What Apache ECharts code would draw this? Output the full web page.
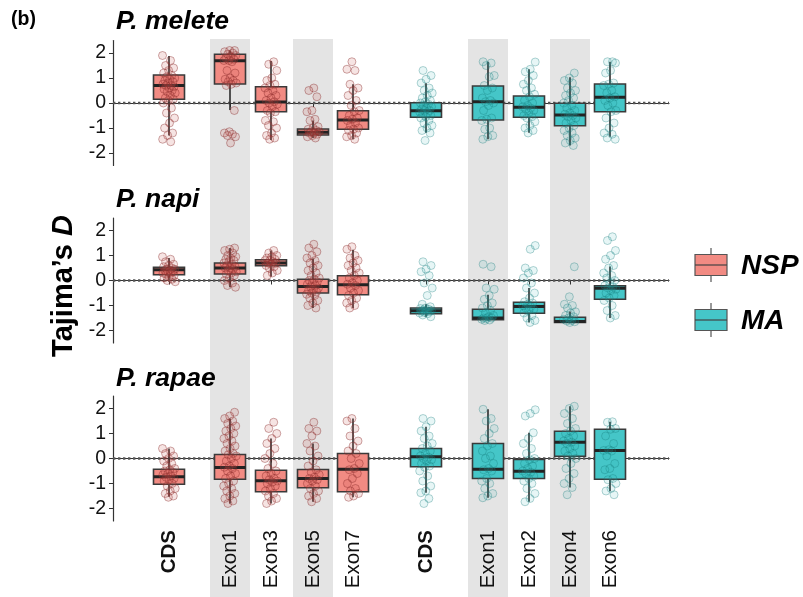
<!DOCTYPE html>
<html>
<head>
<meta charset="utf-8">
<script src="https://cdn.jsdelivr.net/npm/echarts@6/dist/echarts.min.js"></script>
<style>
  html, body { margin: 0; padding: 0; background: #fff; }
  #chart { width: 803px; height: 597px; }
</style>
</head>
<body>
<div id="chart"></div>
<script>
// categories along x (NSP group first, then MA group)
const categories = ['CDS', 'Exon1', 'Exon3', 'Exon5', 'Exon7', 'CDS', 'Exon1', 'Exon2', 'Exon4', 'Exon6']
const groupNames = ['NSP', 'MA']
const species = ['P. melete', 'P. napi', 'P. rapae']
const yTicks = [-2, -1, 0, 1, 2]

// box stats per category: [lower whisker, Q1, median, Q3, upper whisker]
const meleteBoxes = [
  [-1.3, 0.15, 0.7, 1.12, 1.88], [-0.28, 0.76, 1.69, 1.95, 2.1], [-1.48, -0.35, 0.04, 0.65, 1.68],
  [-1.4, -1.28, -1.17, -1.04, -0.7], [-1.45, -1.05, -0.68, -0.31, 0.75],
  [-1.19, -0.57, -0.31, 0.01, 0.79], [-1.45, -0.68, 0.05, 0.68, 1.65], [-1.19, -0.57, -0.17, 0.28, 1.35],
  [-1.7, -0.91, -0.48, -0.01, 1.03], [-1.35, -0.35, 0.23, 0.76, 1.65]
]
const napiBoxes = [
  [0.03, 0.23, 0.43, 0.53, 0.9], [-0.27, 0.26, 0.5, 0.7, 1.3], [0.16, 0.59, 0.7, 0.83, 1.2],
  [-1.1, -0.5, -0.24, 0.05, 0.88], [-1.1, -0.57, -0.17, 0.19, 1.23],
  [-1.45, -1.33, -1.21, -1.1, -0.95], [-1.6, -1.57, -1.5, -1.15, -0.57], [-1.68, -1.31, -1.04, -0.87, -0.3],
  [-1.68, -1.68, -1.64, -1.47, -1.24], [-1.5, -0.75, -0.31, -0.21, 0.56]
]
const rapaeBoxes = [
  [-1.53, -1.03, -0.73, -0.43, 0.4], [-1.8, -0.83, -0.36, 0.16, 1.6], [-1.8, -1.33, -0.89, -0.47, 0.8],
  [-1.73, -1.17, -0.8, -0.44, 0.6], [-1.55, -1.33, -0.43, 0.2, 1.6],
  [-1.37, -0.33, 0.07, 0.4, 1.27], [-1.57, -0.8, -0.43, 0.6, 1.97], [-1.73, -0.8, -0.51, -0.04, 1.03],
  [-1.16, 0.09, 0.65, 1.09, 2.09], [-1.31, -0.83, 0.32, 1.17, 1.47]
]

// individual Tajima's D values per category
const meletePoints = [
  [1.9, 1.7, 1.5, 1.4, 1.3, 1.2, 1.1, 1.05, 1.0, 0.95, 0.9, 0.85, 0.8, 0.75, 0.7, 0.7, 0.65, 0.6, 0.55, 0.5, 0.45, 0.4, 0.3, 0.2, 0.15, 0.1, 0, -0.2, -0.4, -0.6, -0.8, -1.0, -1.2, -1.3, -1.45, -1.55],
  [2.1, 2.1, 2.05, 2.0, 1.95, 1.9, 1.85, 1.8, 1.75, 1.7, 1.7, 1.65, 1.3, 1.2, 1.0, 0.95, 0.9, 0.85, 0.8, 0.75, 0.7, -0.3, -1.15, -1.2, -1.25, -1.3, -1.35, -1.6],
  [1.65, 1.55, 1.3, 1.0, 0.9, 0.75, 0.7, 0.6, 0.5, 0.4, 0.3, 0.2, 0.1, 0.05, 0, -0.05, -0.15, -0.3, -0.35, -0.4, -0.7, -0.75, -0.9, -1.0, -1.2, -1.3, -1.4, -1.45],
  [0.6, 0.5, 0.25, -0.3, -0.35, -0.65, -0.7, -0.95, -1.0, -1.05, -1.1, -1.15, -1.15, -1.2, -1.2, -1.25, -1.3, -1.35, -1.4],
  [1.65, 1.35, 1.3, 0.75, 0.6, 0.5, 0.3, 0.1, -0.1, -0.3, -0.35, -0.5, -0.6, -0.65, -0.7, -0.8, -0.9, -1.0, -1.05, -1.1, -1.2, -1.3, -1.35, -1.45],
  [1.3, 1.1, 0.95, 0.8, 0.6, 0.5, 0.4, 0.3, 0.2, 0.1, 0.05, 0, -0.05, -0.1, -0.15, -0.2, -0.25, -0.3, -0.3, -0.35, -0.4, -0.45, -0.5, -0.55, -0.6, -0.7, -0.8, -0.9, -1.0, -1.1, -1.2, -1.5],
  [1.65, 1.6, 1.5, 1.1, 1.05, 0.7, 0.6, 0.5, 0.2, 0.1, 0.05, 0, -0.1, -0.3, -0.6, -0.65, -0.7, -1.0, -1.05, -1.3, -1.35, -1.45],
  [1.64, 1.35, 1.25, 1.1, 0.9, 0.75, 0.6, 0.5, 0.35, 0.25, 0.1, 0, -0.1, -0.15, -0.2, -0.25, -0.3, -0.4, -0.5, -0.55, -0.6, -0.75, -0.9, -1.0, -1.1, -1.2],
  [1.2, 1.0, 0.9, 0.8, 0.6, 0.5, 0.4, 0.3, 0.2, 0.1, 0, -0.1, -0.2, -0.3, -0.4, -0.45, -0.5, -0.55, -0.6, -0.7, -0.8, -0.9, -1.0, -1.1, -1.2, -1.3, -1.4, -1.5, -1.6, -1.7],
  [1.65, 1.65, 1.6, 1.3, 1.2, 0.8, 0.75, 0.7, 0.5, 0.4, 0.25, 0.2, 0.1, 0, -0.1, -0.3, -0.35, -0.6, -0.8, -1.0, -1.2, -1.25, -1.4, -1.45]
]
const napiPoints = [
  [0.95, 0.85, 0.75, 0.65, 0.6, 0.55, 0.5, 0.45, 0.45, 0.4, 0.4, 0.35, 0.35, 0.3, 0.3, 0.25, 0.2, 0.15, 0.1, 0.05, 0, -0.05],
  [1.3, 1.25, 1.2, 1.1, 1.0, 0.95, 0.9, 0.85, 0.8, 0.75, 0.7, 0.65, 0.6, 0.55, 0.5, 0.5, 0.45, 0.4, 0.35, 0.3, 0.25, 0.2, 0.1, 0, -0.1, -0.2, -0.27],
  [1.2, 1.1, 1.0, 0.95, 0.9, 0.85, 0.8, 0.8, 0.75, 0.7, 0.7, 0.65, 0.6, 0.55, 0.5, 0.4, 0.3, 0.2],
  [1.45, 1.3, 1.15, 1.0, 0.9, 0.8, 0.7, 0.6, 0.5, 0.4, 0.3, 0.2, 0.1, 0.05, 0, -0.05, -0.1, -0.15, -0.2, -0.25, -0.3, -0.35, -0.4, -0.45, -0.5, -0.55, -0.6, -0.7, -0.8, -0.9, -1.0, -1.1],
  [1.35, 1.25, 1.0, 0.9, 0.8, 0.7, 0.6, 0.5, 0.4, 0.3, 0.2, 0.1, 0, -0.1, -0.15, -0.2, -0.3, -0.4, -0.5, -0.6, -0.7, -0.8, -0.9, -1.0, -1.1],
  [0.75, 0.6, 0.45, 0.35, 0.2, -0.1, -0.3, -0.6, -0.95, -1.05, -1.1, -1.12, -1.15, -1.18, -1.2, -1.2, -1.22, -1.25, -1.28, -1.3, -1.33, -1.38, -1.45],
  [0.65, 0.55, -0.3, -0.35, -0.6, -0.75, -0.9, -1.0, -1.1, -1.2, -1.3, -1.4, -1.45, -1.5, -1.5, -1.52, -1.55, -1.58, -1.6],
  [1.4, 1.25, 0.5, 0.4, 0.3, 0.1, -0.1, -0.3, -0.5, -0.7, -0.85, -0.9, -0.95, -1.0, -1.05, -1.1, -1.15, -1.2, -1.3, -1.4, -1.5, -1.6, -1.68],
  [0.55, -0.65, -0.95, -1.0, -1.1, -1.25, -1.3, -1.4, -1.45, -1.5, -1.55, -1.6, -1.62, -1.65, -1.68],
  [1.75, 1.6, 1.2, 1.0, 0.85, 0.6, 0.5, 0.3, 0.2, 0.1, 0, -0.1, -0.2, -0.25, -0.3, -0.35, -0.4, -0.5, -0.6, -0.7, -0.8, -1.0, -1.2, -1.4, -1.5]
]
const rapaePoints = [
  [0.4, 0.3, 0.2, 0.1, 0, -0.1, -0.2, -0.3, -0.4, -0.45, -0.5, -0.55, -0.6, -0.65, -0.7, -0.75, -0.8, -0.85, -0.9, -1.0, -1.1, -1.2, -1.3, -1.4, -1.5, -1.55],
  [1.85, 1.7, 1.6, 1.5, 1.4, 1.3, 1.2, 1.1, 1.0, 0.9, 0.8, 0.7, 0.6, 0.5, 0.4, 0.3, 0.2, 0.15, 0.1, 0, -0.1, -0.2, -0.3, -0.35, -0.4, -0.5, -0.6, -0.7, -0.8, -0.9, -1.0, -1.1, -1.2, -1.3, -1.4, -1.5, -1.6, -1.7, -1.8],
  [1.45, 1.2, 1.0, 0.8, 0.6, 0.4, 0.2, 0, -0.2, -0.4, -0.5, -0.6, -0.7, -0.8, -0.85, -0.9, -0.95, -1.0, -1.1, -1.2, -1.3, -1.4, -1.5, -1.6, -1.7, -1.8],
  [1.45, 1.2, 1.1, 0.9, 0.6, 0.5, 0.3, 0.1, -0.1, -0.3, -0.45, -0.55, -0.65, -0.75, -0.8, -0.85, -0.9, -1.0, -1.1, -1.2, -1.3, -1.4, -1.5, -1.6, -1.73],
  [1.6, 1.5, 1.2, 0.9, 0.7, 0.5, 0.3, 0.2, 0, -0.2, -0.4, -0.45, -0.6, -0.8, -1.0, -1.2, -1.3, -1.4, -1.5, -1.55],
  [1.6, 1.5, 1.27, 1.1, 0.9, 0.8, 0.6, 0.5, 0.4, 0.3, 0.2, 0.1, 0.05, 0, -0.05, -0.1, -0.2, -0.3, -0.35, -0.5, -0.7, -0.9, -1.1, -1.3, -1.37, -1.6, -1.8],
  [1.97, 1.6, 1.5, 1.2, 1.0, 0.8, 0.6, 0.5, 0.3, 0.1, 0, -0.2, -0.4, -0.45, -0.5, -0.8, -0.9, -1.0, -1.2, -1.4, -1.5, -1.57],
  [1.95, 1.8, 1.7, 1.03, 0.8, 0.6, 0.4, 0.2, 0, -0.05, -0.2, -0.3, -0.4, -0.5, -0.55, -0.6, -0.7, -0.8, -0.9, -1.0, -1.2, -1.4, -1.6, -1.73],
  [2.09, 2.0, 1.8, 1.6, 1.4, 1.2, 1.1, 1.0, 0.9, 0.8, 0.7, 0.65, 0.6, 0.5, 0.4, 0.3, 0.2, 0.1, 0, -0.2, -0.4, -0.6, -0.8, -1.0, -1.16, -1.45],
  [1.47, 1.45, 1.2, 1.17, 0.9, 0.6, 0.35, 0.32, 0.3, 0.1, -0.2, -0.4, -0.45, -0.8, -0.85, -1.0, -1.2, -1.3, -1.45]
]

const allBoxes = [meleteBoxes, napiBoxes, rapaeBoxes]
const allPoints = [meletePoints, napiPoints, rapaePoints]

// layout: category centres along the x axis (axis runs 0..556 px), shaded columns
const xPos = [56, 117, 158, 200, 240, 313, 375, 416, 457, 497]
const xMax = 556
const shaded = [1, 3, 6, 8]
const gridTops = [40.5, 218, 396]
const boxHalf = 15.5
const jitterW = 13

const FONT = 'Liberation Sans, Arial, Helvetica, sans-serif'
const boxFill = ['#F28B83', '#45C6C8']
const ptFill = ['rgba(200,85,80,0.2)', 'rgba(50,180,180,0.15)']
const ptBorder = ['rgba(135,40,40,0.5)', 'rgba(20,120,120,0.4)']

const chart = echarts.init(document.getElementById('chart'))

const grids = gridTops.map(t => ({ left: 113, width: 556, top: t, height: 125 }))

const xAxes = gridTops.map((t, p) => ({
  type: 'value', gridIndex: p, min: 0, max: xMax,
  splitLine: { show: false },
  axisLine: { show: true, lineStyle: { color: '#333', width: 1.2 } },
  axisTick: { show: true, length: 4, customValues: xPos, lineStyle: { color: '#333' } },
  axisLabel: {
    show: p === 2, customValues: xPos, rotate: 90, margin: 9,
    fontSize: 20.5, fontFamily: FONT, color: '#111',
    formatter: v => {
      const i = xPos.indexOf(v)
      if (i < 0) return ''
      return categories[i] === 'CDS' ? '{b|CDS}' : categories[i]
    },
    rich: { b: { fontWeight: 'bold', fontSize: 20.5, fontFamily: FONT, color: '#111' } }
  }
}))

const yAxes = gridTops.map((t, p) => ({
  type: 'value', gridIndex: p, min: -2.5, max: 2.5,
  splitLine: { show: false },
  axisLine: { show: true, lineStyle: { color: '#333', width: 1.2 } },
  axisTick: { show: true, length: 4, customValues: yTicks, lineStyle: { color: '#333' } },
  axisLabel: { customValues: yTicks, fontSize: 19.5, fontFamily: FONT, color: '#111', margin: 7 }
}))

function renderBox(params, api) {
  const x = api.value(0)
  const lo = api.coord([x, api.value(1)])
  const q1 = api.coord([x, api.value(2)])
  const md = api.coord([x, api.value(3)])
  const q3 = api.coord([x, api.value(4)])
  const hi = api.coord([x, api.value(5)])
  const hw = api.size([boxHalf, 0])[0]
  const fill = boxFill[api.value(6)]
  const edge = { stroke: '#2b2b2b', lineWidth: 1.6 }
  return {
    type: 'group',
    children: [
      { type: 'line', shape: { x1: lo[0], y1: lo[1], x2: q1[0], y2: q1[1] }, style: edge },
      { type: 'line', shape: { x1: q3[0], y1: q3[1], x2: hi[0], y2: hi[1] }, style: edge },
      { type: 'rect', shape: { x: q1[0] - hw, y: q3[1], width: hw * 2, height: q1[1] - q3[1] },
        style: { fill: fill, stroke: '#3a3a3a', lineWidth: 1.6 } },
      { type: 'line', shape: { x1: md[0] - hw, y1: md[1], x2: md[0] + hw, y2: md[1] },
        style: { stroke: '#222', lineWidth: 3 } }
    ]
  }
}

// dotted reference line at D = 0 across the whole panel
function renderZero(params, api) {
  const a = api.coord([0, api.value(0)])
  const b = api.coord([xMax, api.value(0)])
  return {
    type: 'line', shape: { x1: a[0], y1: a[1], x2: b[0], y2: b[1] },
    style: { stroke: '#555', lineWidth: 2.4, lineDash: [2.4, 2.6] }
  }
}

const series = []
allBoxes.forEach((boxes, p) => {
  series.push({
    type: 'custom', xAxisIndex: p, yAxisIndex: p, z: 1, silent: true,
    renderItem: renderZero, data: [[0]]
  })
  series.push({
    type: 'custom', xAxisIndex: p, yAxisIndex: p, z: 2, silent: true,
    renderItem: renderBox,
    data: boxes.map((b, i) => [xPos[i]].concat(b, [i < 5 ? 0 : 1]))
  })
  groupNames.forEach((g, gi) => {
    const data = []
    allPoints[p].forEach((vals, i) => {
      if ((i < 5 ? 0 : 1) !== gi) return
      vals.forEach((v, k) => {
        const dx = (((k + i * 3) * 0.618034) % 1 - 0.5) * jitterW
        data.push([xPos[i] + dx, v])
      })
    })
    series.push({
      type: 'scatter', name: g, xAxisIndex: p, yAxisIndex: p, z: 3, silent: true,
      symbolSize: 8, data: data,
      itemStyle: { color: ptFill[gi], borderColor: ptBorder[gi], borderWidth: 1 }
    })
  })
})

function legendItem(y, fill, label) {
  return {
    type: 'group',
    children: [
      { type: 'line', shape: { x1: 711, y1: y - 17, x2: 711, y2: y + 17 }, style: { stroke: '#555', lineWidth: 1.2 } },
      { type: 'rect', shape: { x: 695, y: y - 10.5, width: 32, height: 21 }, style: { fill: fill, stroke: '#555', lineWidth: 1.2 } },
      { type: 'line', shape: { x1: 695, y1: y, x2: 727, y2: y }, style: { stroke: '#444', lineWidth: 1.2 } },
      { type: 'text', x: 741, y: y + 1, style: { text: label, fontSize: 28, fontWeight: 'bold', fontStyle: 'italic',
        fontFamily: FONT, fill: '#000', verticalAlign: 'middle', align: 'left' } }
    ]
  }
}

const titleY = [22, 200, 379]
const graphics = [
  { type: 'text', x: 11, y: 20, style: { text: '(b)', fontSize: 19.5, fontWeight: 'bold', fontFamily: FONT, fill: '#000', verticalAlign: 'middle' } },
  { type: 'text', x: 64, y: 286, rotation: Math.PI / 2,
    style: { text: 'Tajima’s {i|D}', fontSize: 29, fontWeight: 'bold', fontFamily: FONT, fill: '#000',
      align: 'center', verticalAlign: 'middle',
      rich: { i: { fontSize: 29, fontWeight: 'bold', fontStyle: 'italic', fontFamily: FONT, fill: '#000' } } } },
  legendItem(265, boxFill[0], groupNames[0]),
  legendItem(320, boxFill[1], groupNames[1])
].concat(species.map((s, p) => ({
  type: 'text', x: 116, y: titleY[p],
  style: { text: s, fontSize: 26.5, fontWeight: 'bold', fontStyle: 'italic', fontFamily: FONT, fill: '#000', verticalAlign: 'middle' }
})))

chart.setOption({
  animation: false,
  backgroundColor: '#fff',
  grid: grids,
  xAxis: xAxes,
  yAxis: yAxes,
  series: series,
  graphic: graphics
})

// grey column bands spanning all panels and the label area
const bands = shaded.map(i => {
  const cx = chart.convertToPixel({ xAxisIndex: 0 }, xPos[i])
  return { type: 'rect', z: -10, silent: true, shape: { x: cx - 20, y: 39, width: 40, height: 560 }, style: { fill: '#E4E4E4' } }
})
chart.setOption({ graphic: graphics.concat(bands) })
</script>
</body>
</html>
